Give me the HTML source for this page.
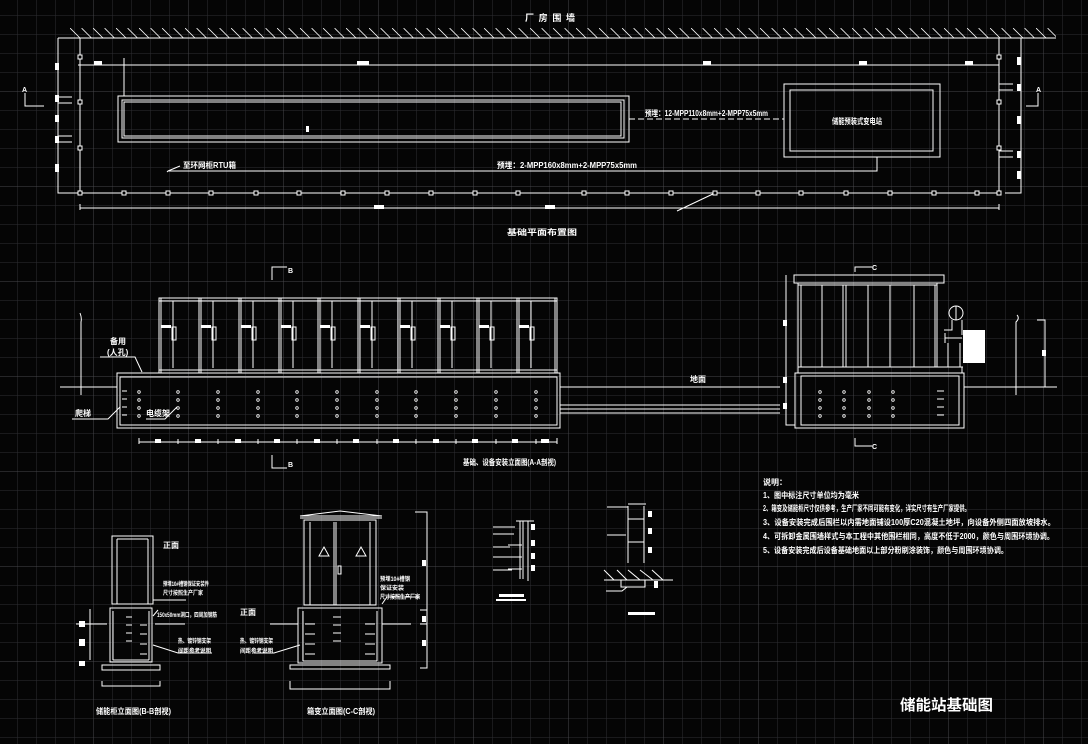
<!DOCTYPE html>
<html><head><meta charset="utf-8">
<style>
html,body{margin:0;padding:0;background:#000;}
svg{display:block;}
text{font-family:"Liberation Sans","Noto Sans CJK SC",sans-serif;fill:#fff;font-weight:bold;}
</style></head>
<body>
<svg width="1088" height="744" viewBox="0 0 1088 744" xmlns="http://www.w3.org/2000/svg">
<defs>
<pattern id="g" x="-2" y="-4" width="19" height="19" patternUnits="userSpaceOnUse">
<path d="M0 0H19M0 0V19" stroke="#2f2f33" stroke-width="1" fill="none"/>
</pattern>
<pattern id="G" x="-2" y="-4" width="95" height="95" patternUnits="userSpaceOnUse">
<path d="M0 0H95M0 0V95" stroke="#48484c" stroke-width="1" fill="none"/>
</pattern>
<pattern id="h" x="70" y="28" width="11.5" height="10" patternUnits="userSpaceOnUse">
<path d="M0 0L10 10" stroke="#fff" stroke-width="0.8"/>
</pattern>
</defs>
<rect width="1088" height="744" fill="#050505"/>
<rect width="1088" height="744" fill="url(#g)"/>
<rect width="1088" height="744" fill="url(#G)"/>

<g stroke="#fff" stroke-width="1" fill="none">
<!-- ============ PLAN ============ -->
<rect x="70" y="28" width="986" height="10" fill="url(#h)" stroke="none"/>
<path d="M70 38H1056"/>
<path d="M58 38H70M58 38V193H80M80 38V193"/>
<path d="M999 38V193M1021 38V193H1005"/>
<path d="M78 65H999"/>
<path d="M80 193H999"/>
<path d="M80 208H999M80 204V210M999 204V210"/>
<path d="M677 211L715 193"/>
<!-- left marks -->
<path d="M58 97H72M58 103H72M58 136H72M58 142H72"/>
<path d="M25 93V106H44"/>
<path d="M999 84H1013M999 90H1013M999 151H1013M999 157H1013"/>
<path d="M1038 93V106H1026"/>
<!-- long container -->
<rect x="118" y="96" width="511" height="46"/>
<rect x="122" y="100" width="502" height="38"/>
<rect x="124" y="102" width="497" height="34"/>
<path d="M124 58V96"/>
<path d="M629 119H784" stroke-dasharray="6 3"/>
<!-- transformer -->
<rect x="784" y="84" width="156" height="73"/>
<rect x="790" y="90" width="143" height="61"/>
<path d="M877 157V171H168L167 172"/>
<path d="M168 171L180 166"/>
</g>
<g fill="#fff">
<rect x="55" y="63" width="4" height="7"/><rect x="55" y="95" width="4" height="7"/><rect x="55" y="115" width="4" height="7"/><rect x="55" y="136" width="4" height="7"/><rect x="55" y="164" width="4" height="8"/>
<rect x="94" y="61" width="8" height="4"/><rect x="357" y="61" width="12" height="4"/><rect x="703" y="61" width="8" height="4"/><rect x="859" y="61" width="8" height="4"/><rect x="965" y="61" width="8" height="4"/>
<rect x="1017" y="57" width="4" height="8"/><rect x="1017" y="84" width="4" height="7"/><rect x="1017" y="116" width="4" height="8"/><rect x="1017" y="151" width="4" height="7"/><rect x="1017" y="171" width="4" height="8"/>
<rect x="545" y="205" width="10" height="4"/><rect x="374" y="205" width="10" height="4"/>
<rect x="306" y="126" width="3" height="6"/>
</g>
<g stroke="#fff" fill="#000" stroke-width="1">
<rect x="78" y="55" width="4" height="4"/><rect x="78" y="100" width="4" height="4"/><rect x="78" y="146" width="4" height="4"/>
<rect x="997" y="55" width="4" height="4"/><rect x="997" y="100" width="4" height="4"/><rect x="997" y="146" width="4" height="4"/>
<rect x="78" y="191" width="4" height="4"/><rect x="122" y="191" width="4" height="4"/><rect x="166" y="191" width="4" height="4"/><rect x="209" y="191" width="4" height="4"/><rect x="254" y="191" width="4" height="4"/><rect x="297" y="191" width="4" height="4"/><rect x="341" y="191" width="4" height="4"/><rect x="385" y="191" width="4" height="4"/><rect x="429" y="191" width="4" height="4"/><rect x="473" y="191" width="4" height="4"/><rect x="516" y="191" width="4" height="4"/><rect x="582" y="191" width="4" height="4"/><rect x="625" y="191" width="4" height="4"/><rect x="669" y="191" width="4" height="4"/><rect x="713" y="191" width="4" height="4"/><rect x="756" y="191" width="4" height="4"/><rect x="799" y="191" width="4" height="4"/><rect x="844" y="191" width="4" height="4"/><rect x="888" y="191" width="4" height="4"/><rect x="932" y="191" width="4" height="4"/><rect x="975" y="191" width="4" height="4"/><rect x="997" y="191" width="4" height="4"/>
</g>
<text x="525" y="21" font-size="9" textLength="50">厂 房 围 墙</text>
<text x="645" y="116" font-size="8" textLength="123" lengthAdjust="spacingAndGlyphs">预埋：12-MPP110x8mm+2-MPP75x5mm</text>
<text x="497" y="168" font-size="8" textLength="140" lengthAdjust="spacingAndGlyphs">预埋：2-MPP160x8mm+2-MPP75x5mm</text>
<text x="183" y="168" font-size="8" textLength="53" lengthAdjust="spacingAndGlyphs">至环网柜RTU箱</text>
<text x="832" y="124" font-size="8" textLength="50" lengthAdjust="spacingAndGlyphs">储能预装式变电站</text>
<text x="507" y="235" font-size="8" textLength="70" lengthAdjust="spacingAndGlyphs">基础平面布置图</text>
<text x="22" y="92" font-size="7">A</text><text x="1036" y="92" font-size="7">A</text>

<!-- ============ ELEVATION A-A ============ -->
<g stroke="#fff" stroke-width="1" fill="none">
<path d="M60 387H117M560 387H780M964 387H1057"/>
<path d="M80 313Q82 318 81 322V395"/>
<path d="M100 357H135L142 372"/>
<path d="M72 419H108L120 407"/>
<path d="M146 419H165L177 407"/>
<rect x="159" y="298" width="398" height="75"/>
<path d="M159 301H557M159 370H557"/>
<path d="M199 298V373M239 298V373M279 298V373M318 298V373M358 298V373M398 298V373M438 298V373M477 298V373M517 298V373"/>
<path d="M201 298V373M241 298V373M281 298V373M320 298V373M360 298V373M400 298V373M440 298V373M479 298V373M519 298V373M161 298V373M555 298V373"/>
<path d="M173 301V368M213 301V368M253 301V368M293 301V368M332 301V368M372 301V368M412 301V368M452 301V368M491 301V368M531 301V368"/>
<path d="M172 327V340H176V327ZM212 327V340H216V327ZM252 327V340H256V327ZM292 327V340H296V327ZM331 327V340H335V327ZM371 327V340H375V327ZM411 327V340H415V327ZM451 327V340H455V327ZM490 327V340H494V327ZM530 327V340H534V327Z"/>
<rect x="117" y="373" width="443" height="55"/>
<rect x="120" y="377" width="437" height="48"/>
<path d="M122 391H127M122 399H127M122 407H127M122 415H127"/>
<path d="M560 405H780M560 409H780M560 413H780"/>
<path d="M139 442H557M139 438V444M178 439V444M218 439V444M258 439V444M297 439V444M337 439V444M377 439V444M416 439V444M456 439V444M496 439V444M536 439V444M557 438V444"/>
<path d="M272 280V267H287M272 455V468H287"/>
<!-- right elevation -->
<path d="M786 275V425H795"/>
<rect x="794" y="275" width="150" height="8"/>
<path d="M798 283V367M937 283V367M801 285V367M935 285V367M798 285H937"/>
<path d="M822 285V367M843 285V367M846 285V367M868 285V367M890 285V367M914 285V367"/>
<rect x="798" y="367" width="164" height="6"/>
<rect x="795" y="373" width="169" height="55"/>
<rect x="801" y="376" width="158" height="49"/>
<path d="M937 391H944M937 399H944M937 407H944M937 415H944"/>
<circle cx="956" cy="313" r="7"/>
<path d="M956 306V320M952 320V330H944M962 320V335M945 338H962M945 333V343M948 343V367M960 343V367M944 367H963"/>
<path d="M855 272V267H872M855 438V446H872"/>
<path d="M1017 315Q1020 318 1016 322V395M1037 320H1045V387"/>
</g>
<g fill="#fff">
<rect x="161" y="325" width="10" height="3"/><rect x="201" y="325" width="10" height="3"/><rect x="241" y="325" width="10" height="3"/><rect x="281" y="325" width="10" height="3"/><rect x="320" y="325" width="10" height="3"/><rect x="360" y="325" width="10" height="3"/><rect x="400" y="325" width="10" height="3"/><rect x="440" y="325" width="10" height="3"/><rect x="479" y="325" width="10" height="3"/><rect x="519" y="325" width="10" height="3"/>
<rect x="155" y="439" width="6" height="4"/><rect x="195" y="439" width="6" height="4"/><rect x="235" y="439" width="6" height="4"/><rect x="274" y="439" width="6" height="4"/><rect x="314" y="439" width="6" height="4"/><rect x="353" y="439" width="6" height="4"/><rect x="393" y="439" width="6" height="4"/><rect x="433" y="439" width="6" height="4"/><rect x="472" y="439" width="6" height="4"/><rect x="512" y="439" width="6" height="4"/><rect x="541" y="439" width="8" height="4"/>
<rect x="963" y="330" width="22" height="33"/>
<rect x="783" y="320" width="4" height="6"/><rect x="783" y="377" width="4" height="6"/><rect x="783" y="403" width="4" height="6"/><rect x="1042" y="350" width="4" height="6"/>
</g>
<g fill="none" stroke="#fff" stroke-width="0.8">
<g id="dots">
<circle cx="139" cy="392" r="1.3"/><circle cx="139" cy="400" r="1.3"/><circle cx="139" cy="408" r="1.3"/><circle cx="139" cy="416" r="1.3"/>
</g>
<use href="#dots" x="39"/><use href="#dots" x="79"/><use href="#dots" x="119"/><use href="#dots" x="158"/><use href="#dots" x="198"/><use href="#dots" x="238"/><use href="#dots" x="277"/><use href="#dots" x="317"/><use href="#dots" x="357"/><use href="#dots" x="397"/>
<use href="#dots" x="681"/><use href="#dots" x="705"/><use href="#dots" x="730"/><use href="#dots" x="754"/>
</g>
<text x="110" y="344" font-size="8">备用</text>
<text x="107" y="355" font-size="8">(人孔)</text>
<text x="75" y="416" font-size="8">爬梯</text>
<text x="146" y="416" font-size="8">电缆架</text>
<text x="690" y="382" font-size="8">地面</text>
<text x="463" y="465" font-size="8" textLength="93" lengthAdjust="spacingAndGlyphs">基础、设备安装立面图(A-A剖视)</text>
<text x="288" y="273" font-size="7">B</text><text x="288" y="467" font-size="7">B</text>
<text x="872" y="270" font-size="7">C</text><text x="872" y="449" font-size="7">C</text>

<!-- ============ BOTTOM LEFT B-B ============ -->
<g stroke="#fff" stroke-width="1" fill="none">
<rect x="112" y="536" width="41" height="68"/>
<path d="M117 539V604M148 539V604M117 539H148"/>
<rect x="110" y="608" width="42" height="54"/>
<path d="M113 611V660M149 611V660M113 660H149"/>
<rect x="102" y="665" width="58" height="5"/>
<path d="M102 681V686H160V681"/>
<path d="M90 609V660M76 624H107M155 624H185"/>
<path d="M126 617H132M126 625H132M126 633H132M126 641H132"/>
<path d="M140 625H147M140 634H147M140 644H147M140 654H147"/>
<path d="M153 600H186M153 616L158 610M153 645L178 653H212"/>
<!-- C-C -->
<path d="M300 516L340 511L382 516M300 516H382M300 518H382"/>
<rect x="304" y="520" width="72" height="85"/>
<path d="M310 522V605M370 522V605M334 522V605M336 522V605M304 605H376"/>
<path d="M319 556L324 547L329 556ZM356 556L361 547L366 556Z"/>
<rect x="338" y="566" width="3" height="8"/>
<rect x="298" y="608" width="84" height="55"/>
<path d="M303 611V661M377 611V661M303 661H377"/>
<path d="M305 624H315M305 634H315M305 644H315M305 654H315M365 624H375M365 634H375M365 644H375M365 654H375"/>
<path d="M333 617H341M333 625H341M333 633H341M333 641H341"/>
<rect x="290" y="665" width="100" height="4"/>
<path d="M290 681V689H390V681"/>
<path d="M270 624H298M382 624H411"/>
<path d="M415 512H427V668H420M427 610H420M427 624H420"/>
<path d="M382 604L387 597H420M254 653H274L300 645"/>
<!-- details -->
<path d="M520 521V579M523 521V579M528 521V581M516 521H534M508 545H522M508 557H522M508 569H522M493 527H515M493 534H514M493 547H510M493 557H510M493 570H512"/>
<path d="M628 506V563M644 506V563M628 519H644M628 542H644M628 504H646M607 507H628M607 535H626"/>
<path d="M604 580H673M621 580V587H645V580M604 570L614 580M617 570L627 580M628 570L640 580M640 570L653 580M652 570L663 580M606 591H622L627 587"/>
</g>
<g fill="#fff">
<rect x="79" y="621" width="6" height="6"/><rect x="79" y="639" width="6" height="7"/><rect x="79" y="661" width="6" height="5"/>
<rect x="422" y="560" width="4" height="6"/><rect x="422" y="616" width="4" height="6"/><rect x="422" y="640" width="4" height="6"/>
<rect x="531" y="524" width="4" height="6"/><rect x="531" y="540" width="4" height="6"/><rect x="531" y="553" width="4" height="6"/><rect x="531" y="565" width="4" height="6"/>
<rect x="648" y="511" width="4" height="6"/><rect x="648" y="528" width="4" height="6"/><rect x="648" y="547" width="4" height="6"/>
<rect x="499" y="594" width="25" height="3"/><rect x="496" y="599" width="30" height="2"/>
<rect x="628" y="612" width="27" height="3"/>
<rect x="654" y="581" width="4" height="7"/>
</g>
<text x="163" y="548" font-size="8">正面</text>
<text x="240" y="615" font-size="8">正面</text>
<text x="163" y="586" font-size="6" textLength="46" lengthAdjust="spacingAndGlyphs">预埋10#槽钢保证安装件</text>
<text x="163" y="595" font-size="6" textLength="40" lengthAdjust="spacingAndGlyphs">尺寸按照生产厂家</text>
<text x="157" y="617" font-size="6" textLength="60" lengthAdjust="spacingAndGlyphs">150x50mm洞口，四周加钢筋</text>
<text x="178" y="643" font-size="6" textLength="33" lengthAdjust="spacingAndGlyphs">热、镀锌钢支架</text>
<text x="178" y="653" font-size="6" textLength="33" lengthAdjust="spacingAndGlyphs">间距参考说明</text>
<text x="240" y="643" font-size="6" textLength="33" lengthAdjust="spacingAndGlyphs">热、镀锌钢支架</text>
<text x="240" y="653" font-size="6" textLength="33" lengthAdjust="spacingAndGlyphs">间距参考说明</text>
<text x="380" y="581" font-size="6" textLength="30" lengthAdjust="spacingAndGlyphs">预埋10#槽钢</text>
<text x="380" y="590" font-size="6" textLength="24" lengthAdjust="spacingAndGlyphs">保证安装</text>
<text x="380" y="599" font-size="6" textLength="40" lengthAdjust="spacingAndGlyphs">尺寸按照生产厂家</text>
<text x="96" y="714" font-size="8" textLength="75" lengthAdjust="spacingAndGlyphs">储能柜立面图(B-B剖视)</text>
<text x="307" y="714" font-size="8" textLength="68" lengthAdjust="spacingAndGlyphs">箱变立面图(C-C剖视)</text>

<!-- notes -->
<g font-size="8">
<text x="763" y="485">说明：</text>
<text x="763" y="498" textLength="96" lengthAdjust="spacingAndGlyphs">1、图中标注尺寸单位均为毫米</text>
<text x="763" y="511" textLength="207" lengthAdjust="spacingAndGlyphs">2、箱变及储能柜尺寸仅供参考，生产厂家不同可能有变化，详实尺寸有生产厂家提供。</text>
<text x="763" y="525" textLength="292" lengthAdjust="spacingAndGlyphs">3、设备安装完成后围栏以内需地面铺设100厚C20混凝土地坪，向设备外侧四面放坡排水。</text>
<text x="763" y="539" textLength="291" lengthAdjust="spacingAndGlyphs">4、可拆卸金属围墙样式与本工程中其他围栏相同，高度不低于2000，颜色与周围环境协调。</text>
<text x="763" y="553" textLength="245" lengthAdjust="spacingAndGlyphs">5、设备安装完成后设备基础地面以上部分粉刷涂装饰，颜色与周围环境协调。</text>
</g>
<text x="900" y="710" font-size="15" font-weight="normal" textLength="93" lengthAdjust="spacingAndGlyphs">储能站基础图</text>
</svg>
</body></html>
